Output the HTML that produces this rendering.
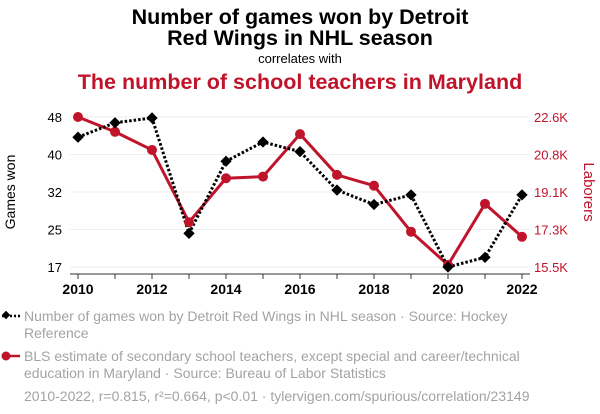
<!DOCTYPE html>
<html><head><meta charset="utf-8"><style>
body{margin:0;background:#fff;font-family:"Liberation Sans",sans-serif}
svg{display:block}
</style></head><body>
<svg width="600" height="414" xmlns="http://www.w3.org/2000/svg">
<text x="300" y="24" text-anchor="middle" font-size="21.5" font-weight="bold" fill="#000">Number of games won by Detroit</text>
<text x="300" y="45" text-anchor="middle" font-size="21.5" font-weight="bold" fill="#000">Red Wings in NHL season</text>
<text x="300" y="63" text-anchor="middle" font-size="13" fill="#000">correlates with</text>
<text x="300" y="89" text-anchor="middle" font-size="21.5" font-weight="bold" fill="#c0142b">The number of school teachers in Maryland</text>
<g id="grid"></g>
<g id="axes"></g>
<g id="marks"></g>
<text transform="translate(15,192) rotate(-90)" text-anchor="middle" font-size="14" fill="#000">Games won</text>
<text transform="translate(584,192) rotate(90)" text-anchor="middle" font-size="15" fill="#c0142b">Laborers</text>
<g>
<line x1="2" y1="316" x2="20" y2="316" stroke="#000" stroke-width="2.5" stroke-dasharray="2,2"/>
<rect x="3" y="312" width="6" height="6" fill="#000" transform="rotate(45 6 315)"/>
<text x="24" y="321" font-size="14" fill="#a3a3a3">Number of games won by Detroit Red Wings in NHL season · Source: Hockey</text>
<text x="24" y="338" font-size="14" fill="#a3a3a3">Reference</text>
</g>
<g>
<line x1="2" y1="356" x2="20" y2="356" stroke="#c0142b" stroke-width="2.5"/>
<circle cx="6" cy="356" r="4.5" fill="#c0142b"/>
<text x="24" y="361" font-size="14" fill="#a3a3a3">BLS estimate of secondary school teachers, except special and career/technical</text>
<text x="24" y="378" font-size="14" fill="#a3a3a3">education in Maryland · Source: Bureau of Labor Statistics</text>
</g>
<text x="24" y="401" font-size="14" fill="#a3a3a3">2010-2022, r=0.815, r²=0.664, p&lt;0.01 · tylervigen.com/spurious/correlation/23149</text>
</svg>
<script>
const years=[2010,2011,2012,2013,2014,2015,2016,2017,2018,2019,2020,2021,2022];
const gamesWon=[44,47,48,24,39,43,41,33,30,32,17,19,32];
const teachers=[22600,21900,21040,17620,19700,19780,21790,19860,19350,17170,15600,18490,16930];
const leftTicks=[48.2,40.4,32.6,24.8,17];
const leftTickLabels=["48","40","32","25","17"];
const rightTicks=[22600,20825,19050,17275,15500];
const rightTickLabels=["22.6K","20.8K","19.1K","17.3K","15.5K"];
const xTicks=[2010,2012,2014,2016,2018,2020,2022];
const NS="http://www.w3.org/2000/svg";
const x=v=>78+(v-2010)*(522-78)/12;
const yL=v=>267-(v-17)*150/31.2;
const yR=v=>267-(v-15500)*150/7100;
function mk(tag,attrs,parent){const e=document.createElementNS(NS,tag);for(const k in attrs)e.setAttribute(k,attrs[k]);parent.appendChild(e);return e;}
const grid=document.getElementById('grid'),axes=document.getElementById('axes'),marks=document.getElementById('marks');
leftTicks.forEach((t,i)=>{
 const g=mk('line',{x1:70,x2:530,y1:yL(t),y2:yL(t),stroke:'#eee','stroke-width':1},grid);
 
 
 const l=mk('text',{x:62,y:yL(t)+5,'text-anchor':'end','font-size':13,fill:'#000'},axes);
 l.textContent=leftTickLabels[i];
 
 
});
rightTicks.forEach((t,i)=>{
 const l=mk('text',{x:534,y:yR(t)+5,'font-size':13,fill:'#c0142b'},axes);
 l.textContent=rightTickLabels[i];
 
 
});
const ax=mk('line',{x1:70,x2:530,y1:274,y2:274,stroke:'#333','stroke-width':1},axes);


years.forEach(yv=>{mk('line',{x1:x(yv),x2:x(yv),y1:274,y2:279,stroke:'#333','stroke-width':1},axes);});
xTicks.forEach(t=>{
 const l=mk('text',{x:x(t),y:294,'text-anchor':'middle','font-size':14,'font-weight':'bold',fill:'#000'},axes);
 l.textContent=t;
 
 
});
const tp=mk('polyline',{points:years.map((yv,i)=>x(yv)+','+yR(teachers[i])).join(' '),fill:'none',stroke:'#c0142b','stroke-width':3},marks);


const gp=mk('polyline',{points:years.map((yv,i)=>x(yv)+','+yL(gamesWon[i])).join(' '),fill:'none',stroke:'#000','stroke-width':3,'stroke-dasharray':'2.5,2'},marks);


years.forEach((yv,i)=>{
 const c=mk('circle',{cx:x(yv),cy:yR(teachers[i]),r:5,fill:'#c0142b'},marks);
 
 
});
years.forEach((yv,i)=>{
 const cx=x(yv),cy=yL(gamesWon[i]);
 const d=mk('rect',{x:cx-4,y:cy-4,width:8,height:8,fill:'#000',transform:`rotate(45 ${cx} ${cy})`},marks);
 
 
});
</script>
</body></html>
